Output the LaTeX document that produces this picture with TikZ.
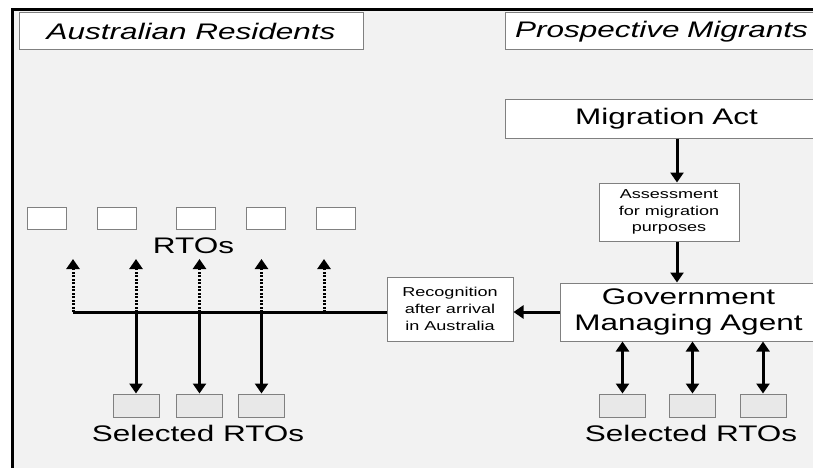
\documentclass[tikz,border=0pt]{standalone}
\usepackage{fontspec}
\setmainfont{Liberation Sans}[FakeStretch=1.4]
\usetikzlibrary{arrows.meta}
\definecolor{panel}{HTML}{F2F2F2}
\definecolor{boxline}{HTML}{808080}
\definecolor{rtofill}{HTML}{E8E8E8}
\newcommand{\bigfont}{\fontsize{22.5}{26}\selectfont}
\newcommand{\smallfont}{\fontsize{12.9}{16.7}\selectfont}

\begin{document}
\begin{tikzpicture}[x=1pt,y=-1pt,
    box/.style={draw=boxline, fill=white, line width=1pt, inner sep=0pt},
    bigbox/.style={box, font=\bigfont, align=center},
    smallbox/.style={box, font=\smallfont, align=center},
    rto/.style={box, minimum width=39pt, minimum height=22pt},
    selrto/.style={rto, fill=rtofill, minimum width=46pt, minimum height=23pt},
    arr/.style={-{Triangle[width=13pt,length=10pt]}, line width=3pt},
    darr/.style={{Triangle[width=13pt,length=10pt]}-{Triangle[width=13pt,length=10pt]}, line width=3pt},
    dotarr/.style={arr, dash pattern=on 2pt off 1.5pt}]
    \useasboundingbox (0,0) rectangle (813,468);
    \clip (0,0) rectangle (813,468);
    \fill[white] (0,0) rectangle (813,468);
    \draw[fill=panel, line width=3pt] (12.5,9.5) rectangle (840,490);

    \node[bigbox, font=\bigfont\itshape, minimum width=344pt, minimum height=37pt] (residents) at (191,31.5) {Australian Residents};
    \node[bigbox, font=\bigfont\itshape, anchor=west, text width=312pt, minimum height=37pt] (migrants) at (505,31.5) {Prospective Migrants};
    \node[bigbox, anchor=west, text width=322pt, minimum height=38pt] (act) at (505,119) {Migration Act};
    \node[smallbox, minimum width=140pt, minimum height=58pt] (assess) at (669,212) {Assessment\\for migration\\purposes};
    \node[bigbox, anchor=west, text width=256pt, minimum height=58pt] (agent) at (560,312) {Government\\Managing Agent};
    \node[smallbox, minimum width=126pt, minimum height=64pt] (recog) at (450,309) {Recognition\\after arrival\\in Australia};

    \foreach \i/\x in {1/46.5, 2/116.5, 3/195.5, 4/265.5, 5/335.5}
        \node[rto] (rto\i) at (\x,218) {};
    \node[font=\bigfont] (rtolabel) at (193.5,245.5) {RTOs};

    \foreach \i/\x in {1/136, 2/199.5, 3/261.5}
        \node[selrto] (lsel\i) at (\x,405.5) {};
    \node[font=\bigfont] (lsellabel) at (198,433) {Selected RTOs};
    \foreach \i/\x in {1/622.5, 2/692.5, 3/763}
        \node[selrto] (rsel\i) at (\x,405.5) {};
    \node[font=\bigfont] (rsellabel) at (691,433) {Selected RTOs};

    \coordinate (stem) at (677,0);
    \draw[arr] (stem |- act.south) -- (stem |- assess.north);
    \draw[arr] (stem |- assess.south) -- (stem |- agent.north);
    \draw[arr] (agent.west) -- (agent.west -| recog.east);

    \coordinate (busend) at (73,312);
    \draw[line width=3pt] (recog.west |- agent.west) -- (busend);
    \foreach \x [count=\i] in {73, 136, 199.5, 261.5, 324} {
        \coordinate (up\i) at (\x,259);
        \draw[dotarr] (up\i |- busend) -- (up\i);
    }
    \foreach \i in {1,2,3}
        \draw[arr] (lsel\i.north |- busend) -- (lsel\i.north);
    \foreach \i in {1,2,3}
        \draw[darr] (rsel\i.north |- agent.south) -- (rsel\i.north);
\end{tikzpicture}
\end{document}
